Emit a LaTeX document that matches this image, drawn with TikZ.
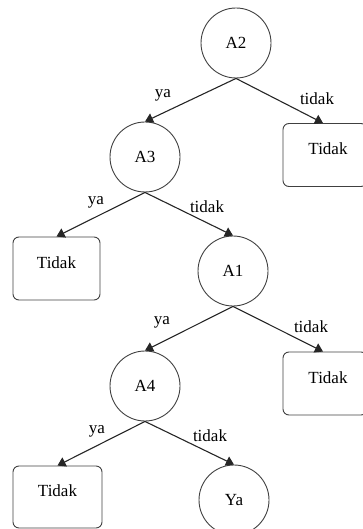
\documentclass[tikz,border=0pt]{standalone}
\usepackage{fontspec}
\setmainfont{Liberation Serif}
\usetikzlibrary{arrows.meta}
\begin{document}
\begin{tikzpicture}[x=1pt,y=-1pt,
  every node/.style={font=\fontsize{17}{20}\selectfont},
  dec/.style={circle,draw=black!75,line width=0.9pt,minimum size=70pt,inner sep=0pt},
  leaf/.style={draw=black!75,line width=0.9pt,rounded corners=6pt,minimum height=63pt,inner sep=0pt},
  leaftext/.style={yshift=6pt},
  branch/.style={draw=black!85,line width=1.1pt,-{Triangle[length=8pt,width=10pt]}},
  lbl/.style={inner sep=0pt}]
\useasboundingbox (0,0) rectangle (363,529);
\clip (0,0) rectangle (363,529);

% decision nodes
\node[dec] (A2) at (236,43) {A2};
\node[dec] (A3) at (145,157) {A3};
\node[dec] (A1) at (233,271) {A1};
\node[dec] (A4) at (145,386) {A4};
\node[dec] (Ya) at (234,500) {Ya};

% outcome boxes (the right-hand ones run off the edge)
\node[leaf,minimum width=84pt] (T1) at (325,155) {};
\node[leaftext] (T1t) at (328,155) {Tidak};
\node[leaf,minimum width=87pt] (T2) at (56.5,268.5) {};
\node[leaftext] (T2t) at (T2) {Tidak};
\node[leaf,minimum width=84pt] (T3) at (325,383.5) {};
\node[leaftext] (T3t) at (328,383.5) {Tidak};
\node[leaf,minimum width=89pt,minimum height=62pt] (T4) at (57.5,497) {};
\node[leaftext] (T4t) at (T4) {Tidak};

% branches
\draw[branch] (A2.south) -- (T1.north -| 323,0);
\draw[branch] (A2.south) -- (A3.north);
\draw[branch] (A3.south) -- (T2.north);
\draw[branch] (A3.south) -- (A1.north);
\draw[branch] (A1.south) -- (A4.north);
\draw[branch] (A1.south) -- (T3.north -| 323,0);
\draw[branch] (A4.south) -- (T4.north);
\draw[branch] (A4.south) -- (Ya.north);

% branch labels
\node[lbl] (l1) at (163,95) {ya};
\node[lbl] (l2) at (317,99) {tidak};
\node[lbl] (l3) at (96,202) {ya};
\node[lbl] (l4) at (207,207) {tidak};
\node[lbl] (l5) at (162,322) {ya};
\node[lbl] (l6) at (311,327) {tidak};
\node[lbl] (l7) at (97,431) {ya};
\node[lbl] (l8) at (210,436) {tidak};
\end{tikzpicture}
\end{document}
